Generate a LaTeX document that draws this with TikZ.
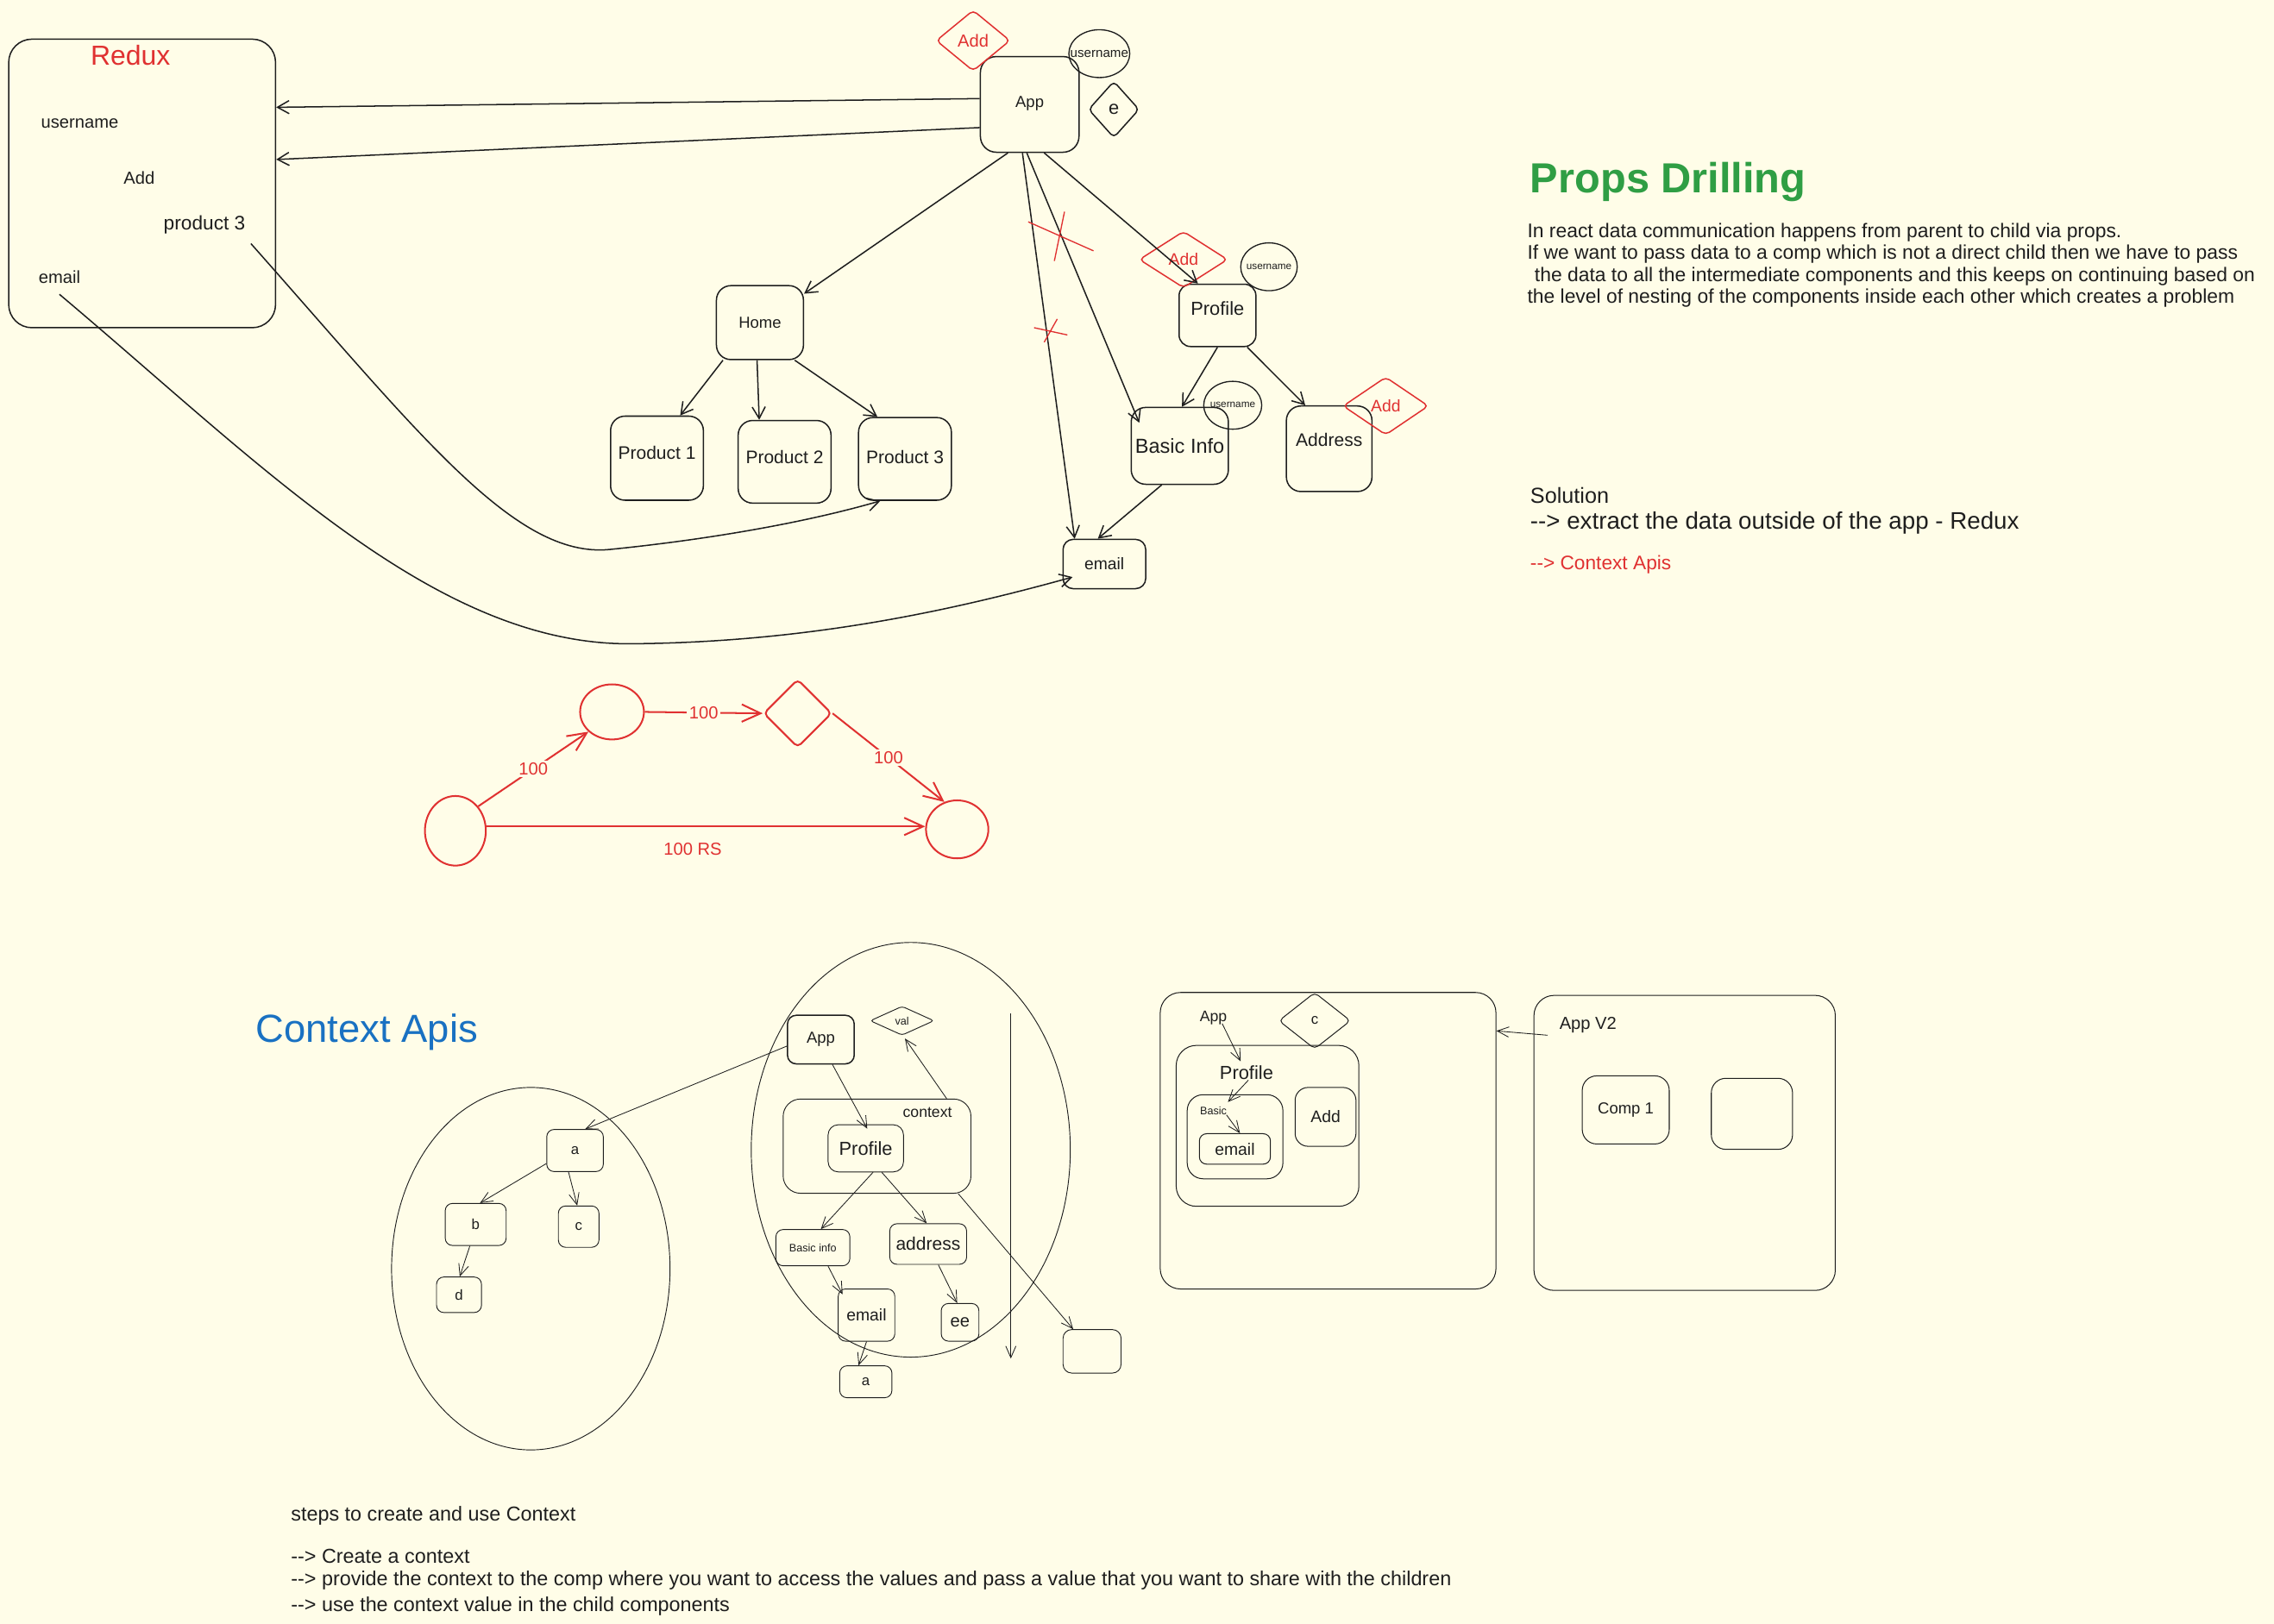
\documentclass[tikz,border=0pt]{standalone}
\usepackage{fontspec}
\setmainfont{Liberation Sans}
\usetikzlibrary{arrows.meta,shapes.geometric}
\definecolor{bgc}{RGB}{255,253,232}
\definecolor{ink}{RGB}{30,30,30}
\definecolor{xred}{RGB}{224,49,49}
\definecolor{xgreen}{RGB}{47,158,68}
\definecolor{xblue}{RGB}{25,113,194}
\newcommand{\myfs}[1]{\fontsize{#1}{#1}\selectfont}
\begin{document}
\begin{tikzpicture}[x=1pt,y=-1pt,
  every node/.style={text=ink},
  rbox/.style={draw=ink, line width=0.9pt, rounded corners=10pt, inner sep=0pt},
  cbox/.style={draw=ink, line width=0.55pt, rounded corners=5pt, inner sep=0pt},
  arr/.style={draw=ink, line width=0.9pt, -{Straight Barb[length=8pt,width=9pt]}},
  carr/.style={draw=ink, line width=0.5pt, -{Straight Barb[length=8pt,width=7pt]}},
  rarr/.style={draw=xred, line width=1.2pt, -{Straight Barb[length=13pt,width=12pt]}},
  ell/.style={draw=ink, ellipse, inner sep=0pt, line width=0.8pt},
  dia/.style={draw=ink, diamond, inner sep=0pt, rounded corners=3pt, line width=0.9pt},
  txt/.style={inner sep=0pt, text=ink},
  lbl/.style={fill=bgc, inner sep=1.5pt, text=xred, font=\myfs{12}},
]
\fill[bgc] (0,0) rectangle (1568,1120);
\useasboundingbox (0,0) rectangle (1568,1120);

% ---------------- Redux
\node[rbox, rounded corners=16pt, minimum width=184pt, minimum height=199pt] (redux) at (98,126.5) {};
\node[txt, text=xred, font=\myfs{19}] (reduxT) at (90,38) {Redux};
\node[txt, font=\myfs{12}] (tuser) at (55,85) {username};
\node[txt, font=\myfs{12}] (tadd) at (96,123) {Add};
\node[txt, font=\myfs{13.5}] (tprod) at (141,155) {product 3};
\node[txt, font=\myfs{12}] (temail) at (41,191) {email};
\coordinate (c1s) at (173,168);
\coordinate (c2s) at (41,203);

% ---------------- props tree
\node[rbox, rounded corners=11pt, minimum width=68pt, minimum height=66pt, font=\myfs{11}, text height=8pt, text depth=4pt] (app) at (710,72) {App};
\node[dia, draw=xred, text=xred, minimum width=51pt, minimum height=42pt, font=\myfs{12}] (addA) at (671,28) {Add};
\node[ell, minimum width=42pt, minimum height=33pt, label={[font=\myfs{9}, inner sep=0pt]center:username}] (uA) at (758,37) {};
\node[dia, minimum width=35pt, minimum height=39pt, font=\myfs{13}] (eA) at (768,75.5) {e};

\node[rbox, minimum width=60pt, minimum height=51pt, font=\myfs{11}] (home) at (524,222.5) {Home};
\node[rbox, minimum width=64pt, minimum height=58pt, font=\myfs{12.5}, text height=9pt, text depth=8pt] (p1) at (453,316) {Product 1};
\node[rbox, minimum width=64pt, minimum height=57pt, font=\myfs{12.5}, text height=9pt, text depth=7pt] (p2) at (541,318.5) {Product 2};
\node[rbox, minimum width=64pt, minimum height=57pt, font=\myfs{12.5}, text height=9pt, text depth=3pt] (p3) at (624,316.5) {Product 3};

\node[rbox, rounded corners=8pt, minimum width=53pt, minimum height=43pt, font=\myfs{13}, text height=9pt, text depth=9pt] (prof) at (839.5,217.5) {Profile};
\node[dia, draw=xred, text=xred, minimum width=61pt, minimum height=39pt, font=\myfs{11.5}] (addP) at (816,179) {Add};
\node[ell, minimum width=39pt, minimum height=33pt, label={[font=\myfs{7}, inner sep=0pt]center:username}] (uP) at (875,184) {};
\node[rbox, minimum width=67pt, minimum height=53pt, font=\myfs{14}] (basic) at (813.5,307.5) {Basic Info};
\node[ell, minimum width=40pt, minimum height=33pt, label={[font=\myfs{7}, inner sep=0pt]center:username}] (uB) at (850,279.5) {};
\node[rbox, minimum width=59pt, minimum height=59pt, font=\myfs{12.5}, text height=9pt, text depth=12pt] (addr) at (916.5,309.5) {Address};
\node[dia, draw=xred, text=xred, minimum width=59pt, minimum height=40pt, font=\myfs{11.5}] (addD) at (955.5,280) {Add};
\node[rbox, rounded corners=7pt, minimum width=57pt, minimum height=34pt, font=\myfs{11.5}] (email) at (761.5,389) {email};

% arrows
\draw[arr] ([yshift=4pt]app.west) -- ([yshift=52.5pt]redux.east);
\draw[arr] ([yshift=-16pt]app.west) -- ([yshift=16.5pt]redux.east);
\draw[arr] ([xshift=-15pt]app.south) -- ([yshift=-6pt]home.north east);
\draw[arr] ([xshift=-25.5pt]home.south) -- ([xshift=16pt]p1.north);
\draw[arr] ([xshift=-2pt]home.south) -- ([xshift=-17.5pt]p2.north);
\draw[arr] ([xshift=24pt]home.south) -- ([xshift=-19pt]p3.north);
\draw[arr] ([xshift=10pt]app.south) -- ([xshift=-13.5pt]prof.north);
\draw[arr] ([xshift=-2pt]app.south) -- ([xshift=6pt,yshift=-11pt]basic.north west);
\draw[arr] ([xshift=-5pt]app.south) -- ([xshift=-20.5pt]email.north);
\draw[arr] ([xshift=-12.5pt]basic.south) -- ([xshift=-4.5pt]email.north);
\draw[arr] (prof.south) -- ([xshift=1.5pt]basic.north);
\draw[arr] ([xshift=20.5pt]prof.south) -- ([xshift=-16.5pt]addr.north);
\draw[arr] (c1s) .. controls (290,300) and (355,385) .. (420,379) .. controls (480,373) and (550,362) .. ([xshift=-17pt]p3.south);
\draw[arr] (c2s) .. controls (180,320) and (300,445) .. (435,444) .. controls (560,443) and (660,420) .. ([xshift=7pt,yshift=-9pt]email.west);

% red crosses
\draw[xred, line width=0.8pt] (709,153) -- (754,173) (734,146) -- (727,180);
\draw[xred, line width=0.8pt] (713,226) -- (736,231) (729,220) -- (720,236);

% ---------------- Props Drilling text
\node[txt, anchor=base west, text=xgreen, font=\bfseries\myfs{29}] (pdT) at (1055,133) {Props Drilling};
\node[txt, anchor=base west, font=\myfs{13.6}] (pd1) at (1053,164) {In react data communication happens from parent to child via props.};
\node[txt, anchor=base west, font=\myfs{13.6}] (pd2) at (1053,179) {If we want to pass data to a comp which is not a direct child then we have to pass};
\node[txt, anchor=base west, font=\myfs{13.6}] (pd3) at (1058,194) {the data to all the intermediate components and this keeps on continuing based on};
\node[txt, anchor=base west, font=\myfs{13.6}] (pd4) at (1053,209) {the level of nesting of the components inside each other which creates a problem};
\node[txt, anchor=base west, font=\myfs{15}] (sol) at (1055,347) {Solution};
\node[txt, anchor=base west, font=\myfs{16.5}] (sol1) at (1055,365) {-{}-> extract the data outside of the app - Redux};
\node[txt, anchor=base west, text=xred, font=\myfs{13.5}] (sol2) at (1055,393) {-{}-> Context Apis};

% ---------------- red graph
\node[draw=xred, ellipse, line width=1.2pt, inner sep=0pt, minimum width=42pt, minimum height=48pt] (g1) at (314,573) {};
\node[draw=xred, ellipse, line width=1.2pt, inner sep=0pt, minimum width=44pt, minimum height=38pt] (g2) at (422,491) {};
\node[draw=xred, diamond, line width=1.2pt, inner sep=0pt, rounded corners=3pt, minimum width=47pt, minimum height=47pt] (gd) at (550,492) {};
\node[draw=xred, ellipse, line width=1.2pt, inner sep=0pt, minimum width=43pt, minimum height=40pt] (g3) at (660,572) {};
\draw[rarr] (g1.47) -- node[lbl] {100} (g2.220);
\draw[rarr] (g2.east) -- node[lbl] {100} (gd.west);
\draw[rarr] (gd.east) -- node[lbl] {100} (g3.115);
\draw[rarr] ([yshift=3pt]g1.east) -- node[pos=0.47, below=11pt, inner sep=0pt, text=xred, font=\myfs{12}] {100 RS} ([yshift=2pt]g3.west);

% ---------------- Context Apis
\node[txt, text=xblue, font=\myfs{27}] (ctxT) at (253,712) {Context Apis};

\node[ell, line width=0.55pt, minimum width=192pt, minimum height=250pt] (lell) at (366,875) {};
\node[cbox, minimum width=39pt, minimum height=29pt, font=\myfs{10}] (na) at (396.5,793.5) {a};
\node[cbox, minimum width=42pt, minimum height=29pt, font=\myfs{10}] (nb) at (328,844.5) {b};
\node[cbox, minimum width=28pt, minimum height=28.5pt, font=\myfs{10}] (nc) at (399,846) {c};
\node[cbox, minimum width=31pt, minimum height=24.5pt, font=\myfs{10}] (nd) at (316.5,893) {d};
\draw[carr] ([yshift=-9pt]na.west) -- ([xshift=3pt]nb.north);
\draw[carr] ([xshift=-4.5pt]na.south) -- ([xshift=-1pt]nc.north);
\draw[carr] ([xshift=-4pt]nb.south) -- ([xshift=0.5pt]nd.north);

\node[ell, line width=0.55pt, minimum width=220pt, minimum height=286pt] (rell) at (628,793) {};
\node[cbox, line width=0.9pt, rounded corners=6pt, minimum width=46pt, minimum height=33.5pt, font=\myfs{11}] (app2) at (566,717) {App};
\node[dia, line width=0.55pt, rounded corners=2pt, minimum width=44pt, minimum height=20pt, font=\myfs{7.5}] (val) at (622,704) {val};
\node[cbox, rounded corners=12pt, minimum width=129.5pt, minimum height=65pt] (ctx) at (604.75,790.5) {};
\node[txt, font=\myfs{10.5}] (ctxL) at (639.5,767.5) {context};
\node[cbox, rounded corners=7pt, minimum width=52pt, minimum height=32.5pt, font=\myfs{13}] (prof2) at (597,792) {Profile};
\node[cbox, minimum width=51pt, minimum height=25pt, font=\myfs{7.5}] (bi2) at (560.5,860.5) {Basic info};
\node[cbox, minimum width=53pt, minimum height=28pt, font=\myfs{12.5}] (ad2) at (640,858) {address};
\node[cbox, minimum width=39pt, minimum height=36pt, font=\myfs{11.5}] (em2) at (597.5,907) {email};
\node[cbox, minimum width=26pt, minimum height=26pt, font=\myfs{12}] (ee) at (662,912) {ee};
\node[cbox, minimum width=36pt, minimum height=22pt, font=\myfs{10}] (a2) at (597,953) {a};
\node[cbox, rounded corners=6pt, minimum width=40pt, minimum height=30pt] (eb) at (753,932) {};
\coordinate (va1) at (697,699);
\coordinate (va2) at (697,937);

\draw[carr] ([yshift=-4.5pt]app2.west) -- ([xshift=7pt]na.north);
\draw[carr] ([xshift=8pt]app2.south) -- ([xshift=1pt,yshift=-3pt]prof2.north);
\draw[carr] ([xshift=48pt]ctx.north) -- ([xshift=2pt,yshift=-2pt]val.south);
\draw[carr] ([xshift=5pt]prof2.south) -- ([xshift=5.5pt]bi2.north);
\draw[carr] ([xshift=11pt]prof2.south) -- ([xshift=-1pt]ad2.north);
\draw[carr] ([xshift=10.5pt]bi2.south) -- ([xshift=-16.5pt,yshift=-4pt]em2.north);
\draw[carr] ([xshift=7pt]ad2.south) -- ([xshift=-2pt]ee.north);
\draw[carr] (em2.south) -- ([xshift=-5pt]a2.north);
\draw[carr] ([xshift=56pt]ctx.south) -- ([xshift=-13pt]eb.north);
\draw[carr] (va1) -- (va2);

% ---------------- right boxes
\node[cbox, line width=0.6pt, rounded corners=14pt, minimum width=231.5pt, minimum height=204.5pt] (app3) at (915.75,786.75) {};
\node[dia, line width=0.6pt, rounded corners=3pt, minimum width=49.5pt, minimum height=39pt, font=\myfs{10}] (c3) at (906.5,704) {c};
\node[txt, font=\myfs{10.5}] (t3app) at (836.7,702) {App};
\node[cbox, line width=0.6pt, rounded corners=14pt, minimum width=126pt, minimum height=111pt] (prof3) at (874,776.5) {};
\node[txt, font=\myfs{13}] (t3prof) at (859.5,740) {Profile};
\node[cbox, line width=0.6pt, rounded corners=11pt, minimum width=66pt, minimum height=58pt] (bas3) at (851.6,784) {};
\node[txt, font=\myfs{7.5}] (t3bas) at (836.7,766) {Basic};
\node[cbox, line width=0.6pt, rounded corners=5pt, minimum width=49pt, minimum height=21pt, font=\myfs{11.5}] (em3) at (851.5,792.4) {email};
\node[cbox, line width=0.6pt, rounded corners=9pt, minimum width=42pt, minimum height=40.6pt, font=\myfs{11.5}] (add3) at (914,770.3) {Add};
\draw[carr] ([xshift=6pt,yshift=1pt]t3app.south) -- ([xshift=-4pt,yshift=3pt]t3prof.north);
\draw[carr] ([xshift=1.3pt]t3prof.south) -- ([xshift=10pt,yshift=3pt]t3bas.north);
\draw[carr] ([xshift=9pt]t3bas.south) -- ([xshift=3.5pt]em3.north);

\node[cbox, line width=0.6pt, rounded corners=14pt, minimum width=207.8pt, minimum height=203.5pt] (appv2) at (1161.6,788.25) {};
\node[txt, font=\myfs{12}] (t3v2) at (1095,707) {App V2};
\node[cbox, line width=0.6pt, rounded corners=10pt, minimum width=60pt, minimum height=47pt, font=\myfs{11}] (comp1) at (1121,765.5) {Comp 1};
\node[cbox, line width=0.6pt, rounded corners=10pt, minimum width=56pt, minimum height=49pt] (comp2) at (1208,768.2) {};
\draw[carr] ([xshift=-8pt,yshift=-7pt]t3v2.west) -- ([yshift=75.75pt]app3.east);

% ---------------- steps text
\node[txt, anchor=base west, font=\myfs{13.9}] (st0) at (200.5,1049) {steps to create and use Context};
\node[txt, anchor=base west, font=\myfs{13.9}] (st1) at (200.5,1078) {-{}-> Create a context};
\node[txt, anchor=base west, font=\myfs{13.9}] (st2) at (200.5,1093.6) {-{}-> provide the context to the comp where you want to access the values and pass a value that you want to share with the children};
\node[txt, anchor=base west, font=\myfs{13.9}] (st3) at (200.5,1111.5) {-{}-> use the context value in the child components};
\end{tikzpicture}
\end{document}
